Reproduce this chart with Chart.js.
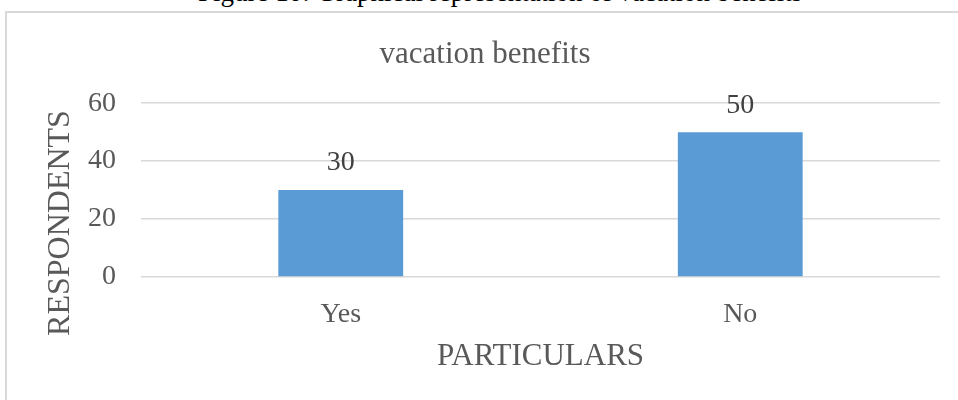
<!DOCTYPE html>
<html>
<head>
<meta charset="utf-8">
<script src="https://cdn.jsdelivr.net/npm/chart.js@4"></script>
<style>
    html, body { margin: 0; padding: 0; background: #fff; overflow: hidden; }
    body { width: 958px; height: 400px; position: relative; font-family: 'Liberation Serif', 'Times New Roman', serif; }
    .caption { position: absolute; left: 198px; top: -22px; font-size: 27px; line-height: 27px; color: #000; white-space: nowrap; transform: translateY(0.6px); }
    .frame { position: absolute; left: 5px; top: 11px; width: 1000px; height: 500px; border: 2px solid #d9d9d9; box-sizing: border-box; }
    .chart-box { position: absolute; left: 0; top: 0; width: 958px; height: 400px; }
</style>
</head>
<body>
<div class="caption">Figure 10: Graphical representation of vacation benefits</div>
<div class="frame"></div>
<div class="chart-box"><canvas id="chartVacation"></canvas></div>

<script>
// dados do gráfico
const categorias = ['Yes', 'No'];
const respondentes = [30, 50];
const ticksY = [0, 20, 40, 60];
const tituloY = 'RESPONDENTS';

const serif = "'Liberation Serif', 'Times New Roman', serif";
const cinza = '#595959';

// rótulos de valor acima das barras
const rotulosBarras = {
    id: 'rotulosBarras',
    afterDatasetsDraw(chart) {
        const ctx = chart.ctx;
        const meta = chart.getDatasetMeta(0);
        ctx.save();
        ctx.font = '28px ' + serif;
        ctx.fillStyle = '#404040';
        ctx.textAlign = 'center';
        ctx.textBaseline = 'middle';
        meta.data.forEach((bar, i) => {
            ctx.fillText(String(respondentes[i]), bar.x, bar.y - 27);
        });
        ctx.restore();
    }
};

// título do eixo Y centrado na área do gráfico inteira (como no Excel)
const tituloEixoY = {
    id: 'tituloEixoY',
    afterDraw(chart) {
        const ctx = chart.ctx;
        ctx.save();
        ctx.translate(61, 223);
        ctx.rotate(-Math.PI / 2);
        ctx.font = '32px ' + serif;
        ctx.fillStyle = cinza;
        ctx.textAlign = 'center';
        ctx.textBaseline = 'middle';
        ctx.fillText(tituloY, 0, 0);
        ctx.restore();
    }
};

function renderizarGrafico() {
    const ctx = document.getElementById('chartVacation');

    new Chart(ctx, {
        type: 'bar',
        data: {
            labels: categorias,
            datasets: [{
                label: 'vacation benefits',
                data: respondentes,
                backgroundColor: '#5b9bd5',
                borderWidth: 0,
                barPercentage: 0.3125,
                categoryPercentage: 1
            }]
        },
        options: {
            responsive: true,
            maintainAspectRatio: false,
            animation: false,
            layout: { padding: { left: 30, right: 18, top: 11, bottom: 20 } },
            plugins: {
                legend: { display: false },
                tooltip: { enabled: false },
                title: {
                    display: true,
                    text: 'vacation benefits',
                    color: cinza,
                    font: { family: serif, size: 31, weight: 'normal' },
                    padding: { top: 25, bottom: 30 }
                }
            },
            scales: {
                x: {
                    grid: { display: false, drawTicks: false },
                    border: { display: false },
                    ticks: {
                        color: cinza,
                        font: { family: serif, size: 28 },
                        padding: 21
                    },
                    title: {
                        display: true,
                        text: 'PARTICULARS',
                        color: cinza,
                        font: { family: serif, size: 31 },
                        padding: { top: 0, bottom: 5 }
                    },
                    afterFit(scale) { scale.height = 103; }
                },
                y: {
                    min: 0,
                    max: 60,
                    afterBuildTicks(scale) { scale.ticks = ticksY.map(v => ({ value: v })); },
                    grid: { color: '#d9d9d9', lineWidth: 1.5, drawTicks: false },
                    border: { display: false },
                    ticks: {
                        color: cinza,
                        font: { family: serif, size: 28 },
                        padding: 25
                    },
                    afterFit(scale) { scale.width = 111; }
                }
            }
        },
        plugins: [rotulosBarras, tituloEixoY]
    });
}

document.addEventListener('DOMContentLoaded', () => {
    renderizarGrafico();
});
</script>
</body>
</html>
